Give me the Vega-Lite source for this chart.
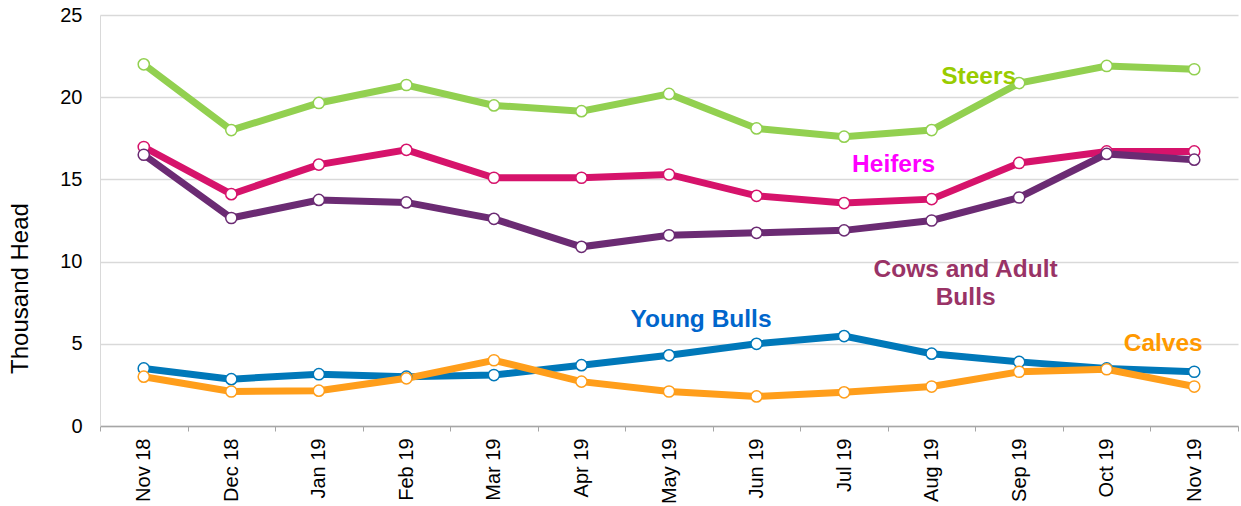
{
  "$schema": "https://vega.github.io/schema/vega-lite/v6.json",
  "autosize": "none",
  "width": 1138,
  "height": 411,
  "padding": {"left": 100, "top": 15, "right": 3, "bottom": 80},
  "background": "white",
  "config": {
    "view": {"stroke": null},
    "font": "Liberation Sans"
  },
  "datasets": {
    "cattle": [
      {"month": "Nov 18", "series": "Steers", "value": 22.0},
      {"month": "Dec 18", "series": "Steers", "value": 18.0},
      {"month": "Jan 19", "series": "Steers", "value": 19.65},
      {"month": "Feb 19", "series": "Steers", "value": 20.74},
      {"month": "Mar 19", "series": "Steers", "value": 19.5},
      {"month": "Apr 19", "series": "Steers", "value": 19.15},
      {"month": "May 19", "series": "Steers", "value": 20.2},
      {"month": "Jun 19", "series": "Steers", "value": 18.1},
      {"month": "Jul 19", "series": "Steers", "value": 17.6},
      {"month": "Aug 19", "series": "Steers", "value": 18.0},
      {"month": "Sep 19", "series": "Steers", "value": 20.86},
      {"month": "Oct 19", "series": "Steers", "value": 21.9},
      {"month": "Nov 19", "series": "Steers", "value": 21.7},
      {"month": "Nov 18", "series": "Heifers", "value": 16.97},
      {"month": "Dec 18", "series": "Heifers", "value": 14.1},
      {"month": "Jan 19", "series": "Heifers", "value": 15.9},
      {"month": "Feb 19", "series": "Heifers", "value": 16.8},
      {"month": "Mar 19", "series": "Heifers", "value": 15.1},
      {"month": "Apr 19", "series": "Heifers", "value": 15.1},
      {"month": "May 19", "series": "Heifers", "value": 15.3},
      {"month": "Jun 19", "series": "Heifers", "value": 14.0},
      {"month": "Jul 19", "series": "Heifers", "value": 13.56},
      {"month": "Aug 19", "series": "Heifers", "value": 13.8},
      {"month": "Sep 19", "series": "Heifers", "value": 16.0},
      {"month": "Oct 19", "series": "Heifers", "value": 16.7},
      {"month": "Nov 19", "series": "Heifers", "value": 16.7},
      {"month": "Nov 18", "series": "Cows and Adult Bulls", "value": 16.5},
      {"month": "Dec 18", "series": "Cows and Adult Bulls", "value": 12.65},
      {"month": "Jan 19", "series": "Cows and Adult Bulls", "value": 13.75},
      {"month": "Feb 19", "series": "Cows and Adult Bulls", "value": 13.6},
      {"month": "Mar 19", "series": "Cows and Adult Bulls", "value": 12.6},
      {"month": "Apr 19", "series": "Cows and Adult Bulls", "value": 10.9},
      {"month": "May 19", "series": "Cows and Adult Bulls", "value": 11.6},
      {"month": "Jun 19", "series": "Cows and Adult Bulls", "value": 11.75},
      {"month": "Jul 19", "series": "Cows and Adult Bulls", "value": 11.9},
      {"month": "Aug 19", "series": "Cows and Adult Bulls", "value": 12.5},
      {"month": "Sep 19", "series": "Cows and Adult Bulls", "value": 13.9},
      {"month": "Oct 19", "series": "Cows and Adult Bulls", "value": 16.55},
      {"month": "Nov 19", "series": "Cows and Adult Bulls", "value": 16.2},
      {"month": "Nov 18", "series": "Young Bulls", "value": 3.5},
      {"month": "Dec 18", "series": "Young Bulls", "value": 2.85},
      {"month": "Jan 19", "series": "Young Bulls", "value": 3.15},
      {"month": "Feb 19", "series": "Young Bulls", "value": 3.0},
      {"month": "Mar 19", "series": "Young Bulls", "value": 3.1},
      {"month": "Apr 19", "series": "Young Bulls", "value": 3.7},
      {"month": "May 19", "series": "Young Bulls", "value": 4.3},
      {"month": "Jun 19", "series": "Young Bulls", "value": 5.0},
      {"month": "Jul 19", "series": "Young Bulls", "value": 5.47},
      {"month": "Aug 19", "series": "Young Bulls", "value": 4.4},
      {"month": "Sep 19", "series": "Young Bulls", "value": 3.9},
      {"month": "Oct 19", "series": "Young Bulls", "value": 3.5},
      {"month": "Nov 19", "series": "Young Bulls", "value": 3.3},
      {"month": "Nov 18", "series": "Calves", "value": 3.0},
      {"month": "Dec 18", "series": "Calves", "value": 2.1},
      {"month": "Jan 19", "series": "Calves", "value": 2.15},
      {"month": "Feb 19", "series": "Calves", "value": 2.9},
      {"month": "Mar 19", "series": "Calves", "value": 4.0},
      {"month": "Apr 19", "series": "Calves", "value": 2.7},
      {"month": "May 19", "series": "Calves", "value": 2.1},
      {"month": "Jun 19", "series": "Calves", "value": 1.8},
      {"month": "Jul 19", "series": "Calves", "value": 2.05},
      {"month": "Aug 19", "series": "Calves", "value": 2.4},
      {"month": "Sep 19", "series": "Calves", "value": 3.3},
      {"month": "Oct 19", "series": "Calves", "value": 3.45},
      {"month": "Nov 19", "series": "Calves", "value": 2.4}
    ]
  },
  "encoding": {
    "x": {
      "field": "month",
      "type": "ordinal",
      "sort": ["Nov 18","Dec 18","Jan 19","Feb 19","Mar 19","Apr 19","May 19","Jun 19","Jul 19","Aug 19","Sep 19","Oct 19","Nov 19"],
      "scale": {"type": "band", "paddingInner": 0, "paddingOuter": 0},
      "axis": {
        "title": null,
        "labelAngle": -90,
        "labelAlign": "right",
        "labelBaseline": "middle",
        "labelFontSize": 20,
        "labelColor": "#000000",
        "labelPadding": 7,
        "tickBand": "extent",
        "tickSize": 5,
        "tickColor": "#a6a6a6",
        "domainColor": "#a6a6a6",
        "domainWidth": 1.5,
        "grid": false
      }
    },
    "y": {
      "field": "value",
      "type": "quantitative",
      "scale": {"domain": [0, 25], "nice": false},
      "axis": {
        "title": "Thousand Head",
        "titleFontSize": 24,
        "titleFontWeight": "normal",
        "titleColor": "#000000",
        "titlePadding": 27,
        "titleY": 273,
        "values": [0, 5, 10, 15, 20, 25],
        "labelFontSize": 20,
        "labelColor": "#000000",
        "labelPadding": 18,
        "ticks": false,
        "domainColor": "#d9d9d9",
        "grid": true,
        "gridColor": "#d9d9d9",
        "gridWidth": 1.5
      }
    }
  },
  "layer": [
    {
      "data": {"name": "cattle"},
      "mark": {"type": "line", "strokeWidth": 7},
      "encoding": {
        "color": {
          "field": "series",
          "type": "nominal",
          "legend": null,
          "scale": {
            "domain": ["Steers", "Heifers", "Cows and Adult Bulls", "Young Bulls", "Calves"],
            "range": ["#92d050", "#d6136b", "#6b2b73", "#0078b9", "#ff9e1b"]
          }
        }
      }
    },
    {
      "data": {"name": "cattle"},
      "mark": {"type": "point", "filled": true, "fill": "white", "size": 125, "strokeWidth": 1.5, "opacity": 1},
      "encoding": {
        "stroke": {
          "field": "series",
          "type": "nominal",
          "legend": null,
          "scale": {
            "domain": ["Steers", "Heifers", "Cows and Adult Bulls", "Young Bulls", "Calves"],
            "range": ["#92d050", "#d6136b", "#6b2b73", "#0078b9", "#ff9e1b"]
          }
        }
      }
    },
    {
      "data": {"values": [{"month": "Aug 19", "value": 21.2, "label": "Steers"}]},
      "mark": {"type": "text", "dx": 47, "fontSize": 24.5, "fontWeight": "bold", "color": "#99cc00"},
      "encoding": {"text": {"field": "label"}}
    },
    {
      "data": {"values": [{"month": "Aug 19", "value": 15.9, "label": "Heifers"}]},
      "mark": {"type": "text", "dx": -38, "fontSize": 24.5, "fontWeight": "bold", "color": "#ff00ff"},
      "encoding": {"text": {"field": "label"}}
    },
    {
      "data": {"values": [{"month": "Aug 19", "value": 9.49, "label": ["Cows and Adult", "Bulls"]}]},
      "mark": {"type": "text", "dx": 34, "fontSize": 24.5, "fontWeight": "bold", "color": "#993366", "lineHeight": 28},
      "encoding": {"text": {"field": "label"}}
    },
    {
      "data": {"values": [{"month": "May 19", "value": 6.45, "label": "Young Bulls"}]},
      "mark": {"type": "text", "dx": 32, "fontSize": 24.5, "fontWeight": "bold", "color": "#0066cc"},
      "encoding": {"text": {"field": "label"}}
    },
    {
      "data": {"values": [{"month": "Nov 19", "value": 5.0, "label": "Calves"}]},
      "mark": {"type": "text", "dx": -31, "fontSize": 24.5, "fontWeight": "bold", "color": "#ff9900"},
      "encoding": {"text": {"field": "label"}}
    }
  ]
}
